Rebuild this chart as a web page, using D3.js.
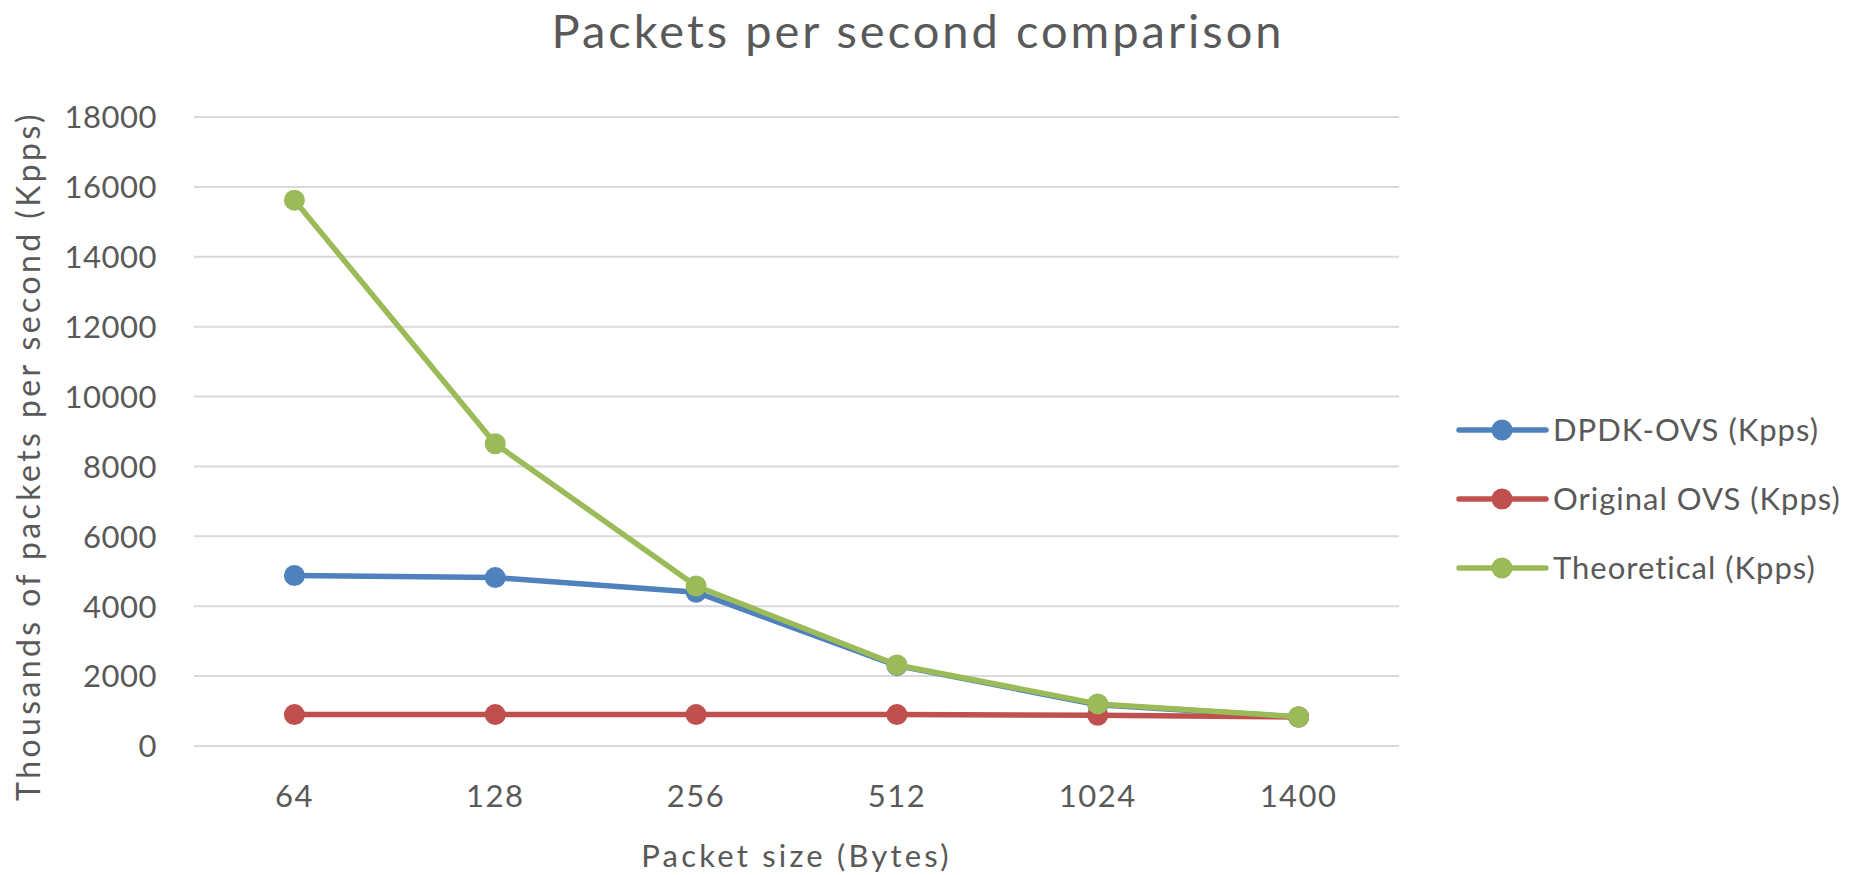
<!DOCTYPE html>
<html>
<head>
<meta charset="utf-8">
<script src="https://cdn.jsdelivr.net/npm/d3@7"></script>
<style>
  html, body { margin: 0; padding: 0; background: #fff; }
  svg { display: block; }
  text { font-family: Lato, "Open Sans", sans-serif; fill: #595959; }
</style>
</head>
<body>
<svg id="chart" width="1854" height="875"></svg>
<script>
// Packet sizes on the x axis
const packetSizes = ["64", "128", "256", "512", "1024", "1400"];

// Throughput in thousands of packets per second
const dpdkOvs = [4880, 4820, 4400, 2300, 1180, 830];
const originalOvs = [900, 900, 900, 900, 880, 830];
const theoretical = [15620, 8650, 4580, 2320, 1205, 835];

const seriesNames = ["DPDK-OVS (Kpps)", "Original OVS (Kpps)", "Theoretical (Kpps)"];
const seriesColors = ["#4f81bd", "#c0504d", "#9bbb59"];
const yTicks = [0, 2000, 4000, 6000, 8000, 10000, 12000, 14000, 16000, 18000];

const series = [dpdkOvs, originalOvs, theoretical].map((values, i) => ({
  name: seriesNames[i], color: seriesColors[i], values
}));

const svg = d3.select("#chart");
const plot = { left: 194, right: 1399, top: 117, bottom: 746 };

const x = d3.scaleBand().domain(packetSizes).range([plot.left, plot.right]).padding(0);
const y = d3.scaleLinear().domain([0, 18000]).range([plot.bottom, plot.top]);

// Horizontal gridlines
svg.append("g")
  .selectAll("line")
  .data(yTicks)
  .join("line")
  .attr("x1", plot.left).attr("x2", plot.right)
  .attr("y1", d => y(d)).attr("y2", d => y(d))
  .attr("stroke", "#d9d9d9").attr("stroke-width", 2);

// Y axis labels
const yAxis = d3.axisLeft(y).tickValues(yTicks).tickSize(0).tickPadding(0).tickFormat(d3.format("d"));
const yg = svg.append("g").attr("transform", `translate(${plot.left - 37},0)`).call(yAxis);
yg.select(".domain").remove();
yg.selectAll("text").attr("font-size", 31).attr("dy", "0.35em")
  .style("letter-spacing", "0.5px")
  .style("font-family", "Lato, 'Open Sans', sans-serif").attr("fill", "#595959");

// X axis labels
const xAxis = d3.axisBottom(x).tickSize(0).tickPadding(0);
const xg = svg.append("g").attr("transform", `translate(0,${plot.bottom + 50})`).call(xAxis);
xg.select(".domain").remove();
xg.selectAll("text").attr("font-size", 31).attr("dy", "0.35em")
  .style("letter-spacing", "1.5px")
  .style("font-family", "Lato, 'Open Sans', sans-serif").attr("fill", "#595959");

const cx = d => x(d) + x.bandwidth() / 2;

// Series lines and markers
const line = d3.line().x((d, i) => cx(packetSizes[i])).y(d => y(d));
const sg = svg.append("g").selectAll("g").data(series).join("g");
sg.append("path")
  .attr("d", d => line(d.values))
  .attr("fill", "none")
  .attr("stroke", d => d.color)
  .attr("stroke-width", 5.5)
  .attr("stroke-linejoin", "round");
sg.selectAll("circle")
  .data(d => d.values.map((v, i) => ({ v, i, color: d.color })))
  .join("circle")
  .attr("cx", d => cx(packetSizes[d.i]))
  .attr("cy", d => y(d.v))
  .attr("r", 10.5)
  .attr("fill", d => d.color);

// Title
svg.append("text")
  .attr("x", 918).attr("y", 48)
  .attr("text-anchor", "middle")
  .attr("font-size", 47)
  .style("letter-spacing", "3px")
  .text("Packets per second comparison");

// Axis titles
svg.append("text")
  .attr("x", (plot.left + plot.right) / 2).attr("y", 867)
  .attr("text-anchor", "middle")
  .attr("font-size", 31)
  .style("letter-spacing", "3.2px")
  .text("Packet size (Bytes)");

svg.append("text")
  .attr("transform", "translate(40,456) rotate(-90)")
  .attr("text-anchor", "middle")
  .attr("font-size", 32)
  .style("letter-spacing", "3.4px")
  .text("Thousands of packets per second (Kpps)");

// Legend
const legendY = [430, 499, 568];
const lg = svg.append("g").selectAll("g").data(series).join("g")
  .attr("transform", (d, i) => `translate(1459,${legendY[i]})`);
lg.append("line")
  .attr("x1", 0).attr("x2", 87).attr("y1", 0).attr("y2", 0)
  .attr("stroke", d => d.color).attr("stroke-width", 5.5).attr("stroke-linecap", "round");
lg.append("circle").attr("cx", 43).attr("cy", 0).attr("r", 10.5).attr("fill", d => d.color);
lg.append("text")
  .attr("x", 94).attr("y", 0).attr("dy", "0.35em")
  .attr("font-size", 31)
  .style("letter-spacing", "1px")
  .text(d => d.name);
</script>
</body>
</html>
